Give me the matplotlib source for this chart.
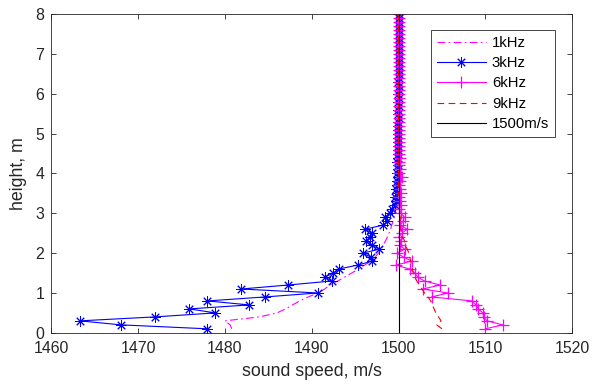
import matplotlib
matplotlib.use("Agg")
import matplotlib.pyplot as plt

plt.rcParams['font.family'] = ['Liberation Sans', 'DejaVu Sans']

# heights (m)
height = [0.1, 0.2, 0.3, 0.4, 0.5, 0.6, 0.7, 0.8, 0.9, 1.0,
          1.1, 1.2, 1.3, 1.4, 1.5, 1.6, 1.7, 1.8, 1.9, 2.0,
          2.1, 2.2, 2.3, 2.4, 2.5, 2.6, 2.7, 2.8, 2.9, 3.0,
          3.1, 3.2, 3.3, 3.4, 3.5, 3.6, 3.7, 3.8, 3.9, 4.0,
          4.1, 4.2, 4.3, 4.4, 4.5, 4.6, 4.7, 4.8, 4.9, 5.0,
          5.1, 5.2, 5.3, 5.4, 5.5, 5.6, 5.7, 5.8, 5.9, 6.0,
          6.1, 6.2, 6.3, 6.4, 6.5, 6.6, 6.7, 6.8, 6.9, 7.0,
          7.1, 7.2, 7.3, 7.4, 7.5, 7.6, 7.7, 7.8, 7.9, 8.0]

# sound speed (m/s) for each frequency
c_1k = [1480.8, 1480.6, 1480.0, 1484.0, 1486.0, 1487.0, 1487.8, 1488.6, 1489.6, 1490.7,
        1491.5, 1492.1, 1493.0, 1493.8, 1494.6, 1495.4, 1496.1, 1496.8, 1497.3, 1497.7,
        1498.0, 1498.2, 1498.5, 1498.7, 1498.9, 1499.1, 1499.2, 1499.4, 1499.5, 1499.6,
        1499.7, 1499.8, 1499.8, 1499.9, 1499.9, 1499.9, 1499.9, 1500.0, 1500.0, 1500.0,
        1500.0, 1500.0, 1500.0, 1500.0, 1500.0, 1500.0, 1500.0, 1500.0, 1500.0, 1500.0,
        1500.0, 1500.0, 1500.0, 1500.0, 1500.0, 1500.0, 1500.0, 1500.0, 1500.0, 1500.0,
        1500.0, 1500.0, 1500.0, 1500.0, 1500.0, 1500.0, 1500.0, 1500.0, 1500.0, 1500.0,
        1500.0, 1500.0, 1500.0, 1500.0, 1500.0, 1500.0, 1500.0, 1500.0, 1500.0, 1500.0]

c_3k = [1478.0, 1468.0, 1463.3, 1472.0, 1478.9, 1475.9, 1482.8, 1478.0, 1484.6, 1490.7,
        1481.9, 1487.3, 1492.3, 1491.5, 1492.5, 1493.1, 1495.3, 1497.0, 1496.8, 1495.9,
        1497.8, 1496.9, 1496.2, 1496.7, 1497.0, 1496.1, 1498.2, 1498.7, 1498.4, 1499.0,
        1499.3, 1499.6, 1499.7, 1499.6, 1499.8, 1499.7, 1499.8, 1499.8, 1499.9, 1499.8,
        1499.9, 1499.9, 1499.8, 1499.9, 1499.9, 1499.9, 1499.9, 1499.9, 1499.9, 1499.9,
        1499.9, 1499.9, 1499.9, 1500.0, 1499.9, 1499.9, 1500.0, 1499.9, 1500.0, 1499.9,
        1500.0, 1500.0, 1499.9, 1500.0, 1500.0, 1500.0, 1500.0, 1500.0, 1500.0, 1500.0,
        1500.0, 1500.0, 1500.0, 1500.0, 1500.0, 1500.0, 1500.0, 1500.0, 1500.0, 1500.0]

c_6k = [1510.0, 1512.0, 1510.2, 1509.8, 1509.7, 1509.2, 1508.9, 1508.5, 1503.8, 1505.7,
        1502.8, 1504.8, 1503.0, 1502.2, 1501.9, 1501.3, 1499.7, 1501.5, 1500.6, 1499.8,
        1500.7, 1500.2, 1500.3, 1500.0, 1500.4, 1501.0, 1500.2, 1500.5, 1500.7, 1500.3,
        1500.1, 1500.3, 1500.2, 1500.1, 1500.3, 1500.2, 1500.1, 1500.2, 1500.4, 1500.1,
        1500.2, 1500.1, 1500.1, 1500.2, 1500.1, 1500.1, 1500.1, 1500.1, 1500.1, 1500.1,
        1500.1, 1500.1, 1500.1, 1500.1, 1500.0, 1500.1, 1500.1, 1500.0, 1500.1, 1500.0,
        1500.1, 1500.0, 1500.1, 1500.0, 1500.0, 1500.1, 1500.0, 1500.0, 1500.0, 1500.0,
        1500.0, 1500.0, 1500.0, 1500.0, 1500.0, 1500.0, 1500.0, 1500.0, 1500.0, 1500.0]

c_9k = [1505.0, 1504.4, 1504.9, 1504.6, 1504.3, 1504.1, 1503.9, 1503.7, 1503.4, 1503.0,
        1502.7, 1502.4, 1502.1, 1501.9, 1501.7, 1501.6, 1501.5, 1501.4, 1501.3, 1501.2,
        1501.0, 1500.8, 1500.7, 1500.5, 1500.4, 1500.3, 1500.3, 1500.2, 1500.2, 1500.1,
        1500.1, 1500.1, 1500.1, 1500.1, 1500.0, 1500.0, 1500.0, 1500.0, 1500.0, 1500.0,
        1500.0, 1500.0, 1500.0, 1500.0, 1500.0, 1500.0, 1500.0, 1500.0, 1500.0, 1500.0,
        1500.0, 1500.0, 1500.0, 1500.0, 1500.0, 1500.0, 1500.0, 1500.0, 1500.0, 1500.0,
        1500.0, 1500.0, 1500.0, 1500.0, 1500.0, 1500.0, 1500.0, 1500.0, 1500.0, 1500.0,
        1500.0, 1500.0, 1500.0, 1500.0, 1500.0, 1500.0, 1500.0, 1500.0, 1500.0, 1500.0]

ref_speed = [1500, 1500]
ref_height = [0, 8]

fig = plt.figure(figsize=(5.92, 3.92), dpi=100)
ax = fig.add_axes([0.0865, 0.151, 0.88, 0.813])

ax.plot(c_1k, height, color='#FF00FF', linestyle=(0, (7, 3, 1.5, 3)), linewidth=0.8, label='1kHz')
ax.plot(c_3k, height, color='#0000FF', linestyle='-', linewidth=0.8,
        marker=(8, 2, 0), markersize=7.5, markeredgewidth=0.7, label='3kHz')
ax.plot(c_6k, height, color='#FF00FF', linestyle='-', linewidth=0.8,
        marker='+', markersize=9, markeredgewidth=0.9, label='6kHz')
ax.plot(c_9k, height, color='#FF0000', linestyle=(0, (6, 4)), linewidth=0.8, label='9kHz')
ax.plot(ref_speed, ref_height, color='black', linewidth=0.8, label='1500m/s')

ax.set_xlim(1460, 1520)
ax.set_ylim(0, 8)
ax.set_xticks([1460, 1470, 1480, 1490, 1500, 1510, 1520])
ax.set_yticks([0, 1, 2, 3, 4, 5, 6, 7, 8])
ax.tick_params(direction='in', top=True, right=True, labelsize=11.4,
               colors='#262626', length=3.5, width=0.6)
ax.tick_params(axis='x', pad=6)
ax.tick_params(axis='y', pad=5)
for s in ax.spines.values():
    s.set_color('#262626')
    s.set_linewidth(0.6)

ax.set_xlabel('sound speed, m/s', fontsize=12.8, color='#262626', labelpad=5)
ax.set_ylabel('height, m', fontsize=12.8, color='#262626', labelpad=6)

leg = ax.legend(loc='upper right', bbox_to_anchor=(0.967, 0.95), borderaxespad=0,
                fontsize=10.7, fancybox=False, framealpha=1, edgecolor='#262626',
                handlelength=3.3, handletextpad=0.4, labelspacing=0.42,
                borderpad=0.4)
leg.get_frame().set_linewidth(0.6)

fig.savefig('out.png', dpi=100)
